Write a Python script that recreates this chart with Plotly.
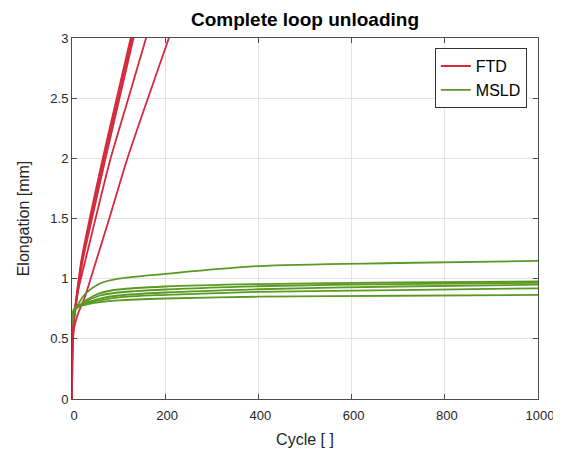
import plotly.graph_objects as go

# ---- data ----
ftd_x = [
    [0, 0.5, 2, 5, 11, 20, 38, 66, 96, 126, 140],
    [0, 0.5, 2, 5, 12, 21, 40, 69, 99, 129, 142],
    [0, 0.5, 2, 5, 13, 23, 43, 72, 102, 132, 145],
    [0, 0.5, 2, 6, 13, 19, 38, 60, 83, 121, 159, 172],
    [0, 0.5, 1.5, 5, 14, 28, 40, 52, 80, 119, 163, 208, 222],
]
ftd_y = [
    [0, 0.3, 0.55, 0.7, 0.9, 1.15, 1.5, 2.0, 2.5, 3.0, 3.23],
    [0, 0.3, 0.55, 0.7, 0.9, 1.15, 1.5, 2.0, 2.5, 3.0, 3.22],
    [0, 0.3, 0.55, 0.7, 0.9, 1.15, 1.5, 2.0, 2.5, 3.0, 3.22],
    [0, 0.3, 0.55, 0.7, 0.9, 1.0, 1.3, 1.65, 2.0, 2.5, 3.0, 3.17],
    [0, 0.3, 0.45, 0.6, 0.72, 0.85, 1.0, 1.15, 1.5, 2.0, 2.5, 3.0, 3.15],
]

msld_x = [1, 5, 15, 30, 60, 100, 200, 400, 700, 1000]
msld_y = [
    [0.62, 0.72, 0.80, 0.88, 0.96, 1.0, 1.04, 1.105, 1.13, 1.148],
    [0.65, 0.73, 0.77, 0.82, 0.88, 0.91, 0.935, 0.955, 0.968, 0.977],
    [0.66, 0.74, 0.77, 0.81, 0.86, 0.885, 0.91, 0.937, 0.955, 0.966],
    [0.68, 0.75, 0.78, 0.80, 0.835, 0.86, 0.885, 0.912, 0.935, 0.950],
    [0.69, 0.75, 0.775, 0.795, 0.82, 0.845, 0.865, 0.89, 0.905, 0.920],
    [0.70, 0.75, 0.77, 0.785, 0.805, 0.82, 0.835, 0.85, 0.858, 0.865],
]

x_ticks = [0, 200, 400, 600, 800, 1000]
y_ticks = [0, 0.5, 1, 1.5, 2, 2.5, 3]
y_tick_text = ["0", "0.5", "1", "1.5", "2", "2.5", "3"]

RED = "#D42A3C"
GREEN = "#5A9A24"
FONT = "Liberation Sans, Arial, sans-serif"

fig = go.Figure()
for i, (xs, ys) in enumerate(zip(ftd_x, ftd_y)):
    fig.add_trace(go.Scatter(x=xs, y=ys, mode="lines",
                             line=dict(color=RED, width=1.8, shape="spline", smoothing=0.6),
                             name="FTD", showlegend=(i == 0), legendgroup="FTD"))
for i, ys in enumerate(msld_y):
    fig.add_trace(go.Scatter(x=msld_x, y=ys, mode="lines",
                             line=dict(color=GREEN, width=1.8, shape="spline", smoothing=0.8),
                             name="MSLD", showlegend=(i == 0), legendgroup="MSLD"))

axis_common = dict(
    showline=True, linecolor="#4d4d4d", linewidth=1, mirror="ticks",
    ticks="inside", ticklen=5, tickcolor="#4d4d4d",
    showgrid=True, gridcolor="#e3e3e3", gridwidth=1, zeroline=False,
    tickfont=dict(family=FONT, size=13, color="#262626"),
    automargin=False,
)

fig.update_layout(
    width=553, height=450,
    margin=dict(l=64, r=23, t=30, b=59),
    paper_bgcolor="white", plot_bgcolor="white",
    title=dict(text="<b>Complete loop unloading</b>", x=0.5, xref="paper", xanchor="center",
               yref="container", y=1 - 11.5 / 450, yanchor="middle",
               font=dict(family=FONT, size=19, color="#000000")),
    xaxis=dict(range=[0, 1000], tickvals=x_ticks, ticklabelstandoff=4, ticklabelshift=2,
               title=dict(text="Cycle [ ]", standoff=12,
                          font=dict(family=FONT, size=16, color="#262626")),
               **axis_common),
    yaxis=dict(range=[0, 3], tickvals=y_ticks, ticktext=y_tick_text,
               title=dict(text="Elongation [mm]", standoff=16,
                          font=dict(family=FONT, size=16, color="#262626")),
               **axis_common),
    legend=dict(x=0.976, y=0.972, xanchor="right", yanchor="top",
                bgcolor="white", bordercolor="#333333", borderwidth=1,
                font=dict(family=FONT, size=16, color="#000000"),
                tracegroupgap=0),
    showlegend=True,
)

fig.write_html("out.html")
